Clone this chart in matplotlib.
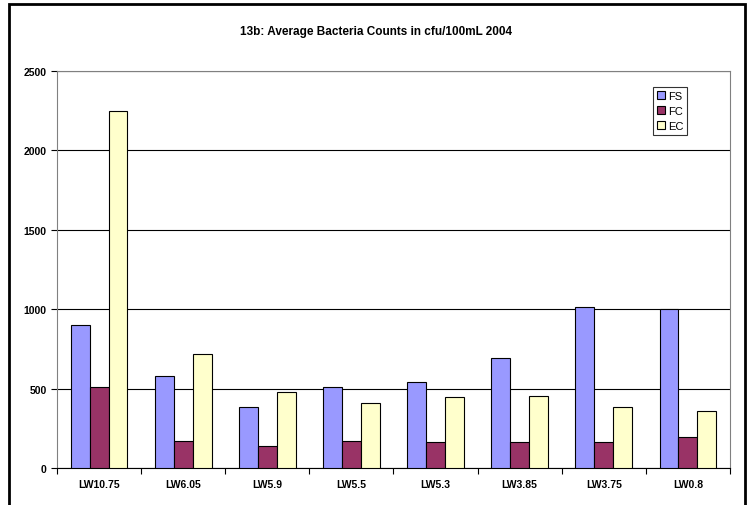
import matplotlib.pyplot as plt
import numpy as np
from matplotlib.patches import Rectangle

plt.rcParams['font.family'] = ['Liberation Sans', 'DejaVu Sans']

sites = ["LW10.75", "LW6.05", "LW5.9", "LW5.5", "LW5.3", "LW3.85", "LW3.75", "LW0.8"]
FS = [902, 579, 382, 508, 542, 693, 1011, 999]
FC = [508, 168, 137, 172, 165, 163, 163, 198]
EC = [2246, 718, 479, 411, 446, 456, 383, 358]

fig = plt.figure(figsize=(7.51, 5.06), dpi=100)
ax = fig.add_axes([0.0759, 0.0731, 0.8961, 0.7846])

x = np.arange(len(sites))
w = 0.225
ax.bar(x - w, FS, w, color="#9999FF", edgecolor="black", linewidth=0.8, label="FS", zorder=3)
ax.bar(x, FC, w, color="#993366", edgecolor="black", linewidth=0.8, label="FC", zorder=3)
ax.bar(x + w, EC, w, color="#FFFFCC", edgecolor="black", linewidth=0.8, label="EC", zorder=3)

ax.set_xlim(-0.5, len(sites) - 0.5)
ax.set_ylim(0, 2500)
ax.set_yticks(range(0, 2501, 500))
ax.yaxis.grid(True, color="black", linewidth=0.8, zorder=0)

ax.set_xticks(x)
ax.set_xticklabels(sites, fontsize=7.5, fontweight="bold")
ax.set_xticks(np.arange(-0.5, len(sites), 1), minor=True)
ax.tick_params(axis="x", which="major", length=0, pad=8)
ax.tick_params(axis="x", which="minor", length=4, direction="out", width=0.8)
ax.tick_params(axis="y", length=4, width=0.8, labelsize=7.5)
for lab in ax.get_yticklabels():
    lab.set_fontweight("bold")

for s in ["left", "right", "top"]:
    ax.spines[s].set_color("#808080")
ax.spines["bottom"].set_color("black")

fig.text(0.5, 0.937, "13b: Average Bacteria Counts in cfu/100mL 2004",
         ha="center", va="center", fontsize=8.5, fontweight="bold")

leg = ax.legend(loc="upper left", bbox_to_anchor=(0.8695, 0.826),
                bbox_transform=fig.transFigure, fontsize=8, frameon=True,
                fancybox=False, edgecolor="black", handlelength=0.7, handleheight=0.7,
                handletextpad=0.3, borderpad=0.35, labelspacing=0.45, borderaxespad=0)
leg.get_frame().set_linewidth(0.8)

fig.patches.append(Rectangle((0.012, -0.1), 0.98, 1.09, transform=fig.transFigure,
                             fill=False, edgecolor="black", linewidth=2))

fig.savefig("out.png", dpi=100)
